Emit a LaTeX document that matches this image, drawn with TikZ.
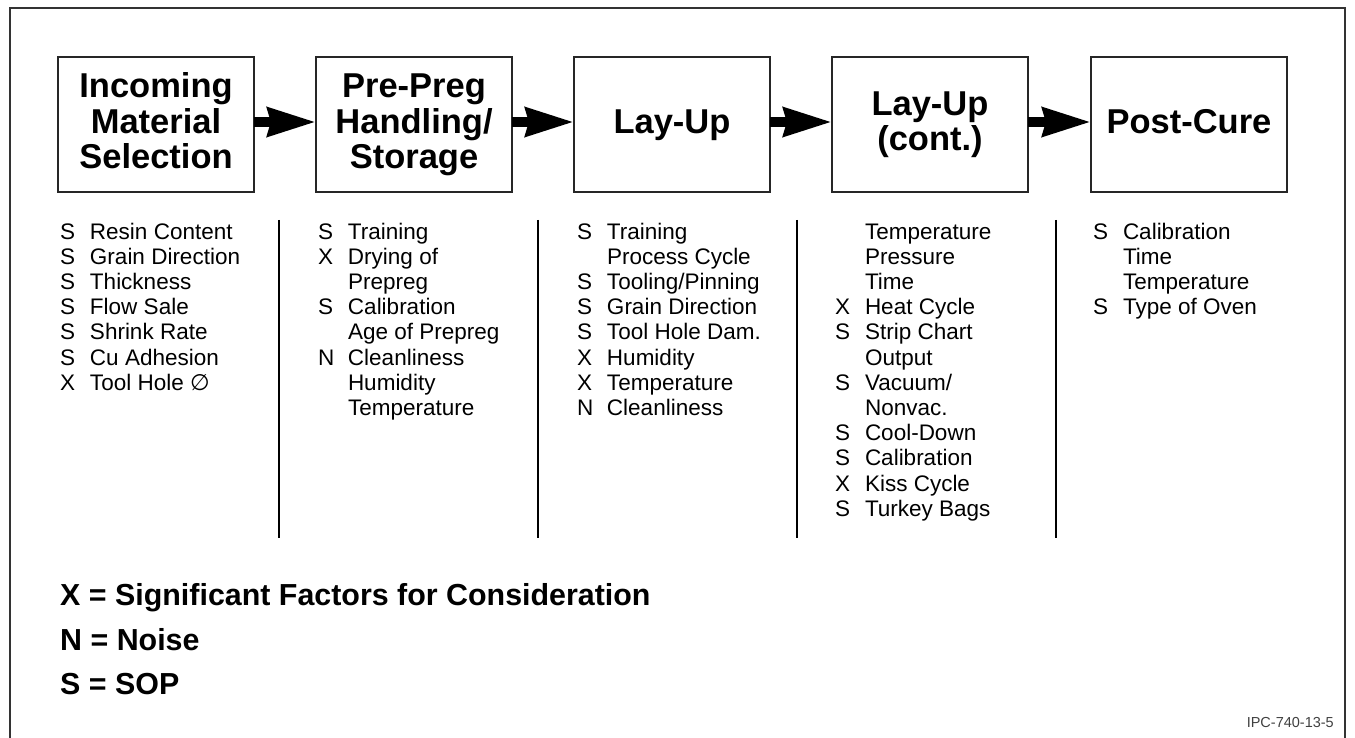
\documentclass[tikz,border=0pt]{standalone}
\usepackage{fontspec}
\setmainfont{Liberation Sans}
\newfontfamily\symbolfont{DejaVu Sans}
\usetikzlibrary{arrows.meta}

\newcommand\stagefont{\bfseries\fontsize{34.5}{35.5}\selectfont}
\newcommand\listfont{\fontsize{22.5}{25.2}\selectfont}
\newcommand\keyfont{\bfseries\fontsize{30.4}{34}\selectfont}
\newcommand\stagetext[1]{\begin{tabular}{@{}c@{}}#1\end{tabular}}

\begin{document}
\begin{tikzpicture}[x=1pt,y=-1pt,
  stage/.style={draw=black!85, line width=1.5pt, minimum width=196pt,
    minimum height=135pt, inner sep=0pt, outer sep=0pt},
  stagelabel/.style={inner sep=0pt, outer sep=0pt, font=\stagefont},
  flow/.style={line width=10pt, -{Stealth[length=48pt,width=28pt,inset=3pt]}},
  factors/.style={anchor=north west, inner sep=0pt, outer sep=0pt, font=\listfont},
  divider/.style={line width=2pt},
  keyline/.style={anchor=base west, inner sep=0pt, font=\keyfont}]

\useasboundingbox (0,0) rectangle (1355,738);

% outer frame (open at the bottom)
\draw[line width=1.3pt, black!80] (10,745) -- (10,8) -- (1345,8) -- (1345,745);

% process stages
\node[stage] (s1) at (156,124.5)  {};
\node[stage] (s2) at (414,124.5)  {};
\node[stage] (s3) at (672,124.5)  {};
\node[stage] (s4) at (930,124.5)  {};
\node[stage] (s5) at (1189,124.5) {};

\node[stagelabel] (t1) at ([yshift=-1.5pt]s1.center) {\stagetext{Incoming\\Material\\Selection}};
\node[stagelabel] (t2) at ([yshift=-1.5pt]s2.center) {\stagetext{Pre-Preg\\Handling/\\Storage}};
\node[stagelabel] (t3) at ([yshift=-1.5pt]s3.center) {\stagetext{Lay-Up}};
\node[stagelabel] (t4) at ([yshift=-1.5pt]s4.center) {\stagetext{Lay-Up\\(cont.)}};
\node[stagelabel] (t5) at ([yshift=-1.5pt]s5.center) {\stagetext{Post-Cure}};

% flow arrows
\foreach \a/\b in {s1/s2,s2/s3,s3/s4,s4/s5}
  \draw[flow] ([yshift=2.5pt]\a.east) -- ([yshift=2.5pt]\b.west);

% factor lists
\node[factors] (f1) at (60,221.4) {\begin{tabular}{@{}p{30pt}@{}l@{}}
S & Resin Content\\
S & Grain Direction\\
S & Thickness\\
S & Flow Sale\\
S & Shrink Rate\\
S & Cu Adhesion\\
X & Tool Hole {\symbolfont ∅}
\end{tabular}};

\node[factors] (f2) at (318,221.4) {\begin{tabular}{@{}p{30pt}@{}l@{}}
S & Training\\
X & Drying of\\
  & Prepreg\\
S & Calibration\\
  & Age of Prepreg\\
N & Cleanliness\\
  & Humidity\\
  & Temperature
\end{tabular}};

\node[factors] (f3) at (577,221.4) {\begin{tabular}{@{}p{30pt}@{}l@{}}
S & Training\\
  & Process Cycle\\
S & Tooling/Pinning\\
S & Grain Direction\\
S & Tool Hole Dam.\\
X & Humidity\\
X & Temperature\\
N & Cleanliness
\end{tabular}};

\node[factors] (f4) at (835,221.4) {\begin{tabular}{@{}p{30pt}@{}l@{}}
  & Temperature\\
  & Pressure\\
  & Time\\
X & Heat Cycle\\
S & Strip Chart\\
  & Output\\
S & Vacuum/\\
  & Nonvac.\\
S & Cool-Down\\
S & Calibration\\
X & Kiss Cycle\\
S & Turkey Bags
\end{tabular}};

\node[factors] (f5) at (1093,221.4) {\begin{tabular}{@{}p{30pt}@{}l@{}}
S & Calibration\\
  & Time\\
  & Temperature\\
S & Type of Oven
\end{tabular}};

% column dividers
\foreach \x in {279,538,797,1055.5}
  \draw[divider] (\x,220) -- (\x,538);

% key
\node[keyline] (kx) at (60,605) {X = Significant Factors for Consideration};
\node[keyline] (kn) at (60,650) {N = Noise};
\node[keyline] (ks) at (60,694) {S = SOP};

% figure number
\node[anchor=base east, inner sep=0pt, text=black!75,
  font=\fontsize{14.5}{16}\selectfont] (fig) at (1334,727) {IPC-740-13-5};
\end{tikzpicture}
\end{document}
